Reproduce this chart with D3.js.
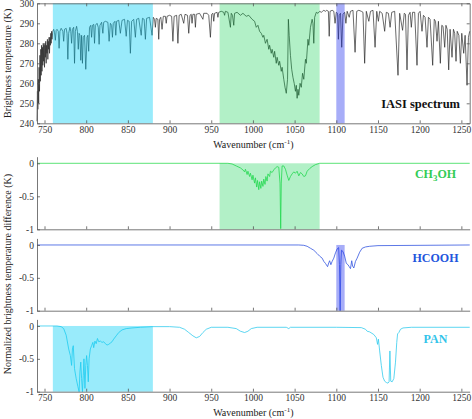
<!DOCTYPE html>
<html>
<head>
<meta charset="utf-8">
<script src="https://cdn.jsdelivr.net/npm/d3@7"></script>
<style>
body { margin: 0; background: #fff; }
svg { display: block; }
.axis path, .axis line { stroke: #555; stroke-width: 0.8; }
</style>
</head>
<body>
<div id="chart"></div>
<script>
// tick values
const xTicks = [750, 800, 850, 900, 950, 1000, 1050, 1100, 1150, 1200, 1250]
const btTicks = [240, 250, 260, 270, 280, 290, 300]
const diffTicks = [-1, -0.5, 0]

// spectral windows used for each species (cm-1)
const bandSpecies = ["PAN", "CH3OH", "HCOOH"]
const bandStart = [760, 960, 1100]
const bandEnd = [880, 1080, 1110]

// IASI brightness temperature spectrum [wavenumber, K]
const iasiSpectrum = [
  [741,241],[741.5,256],[742,247],[742.5,262],[743,250],[743.5,268],[744,256],[744.5,274],[745,261],[745.5,277],
  [746,264],[746.5,279],[747,266],[747.5,278],[748,269],[748.5,280],[749,271],[749.5,279],[750,268],[750.5,280],
  [751,273],[751.5,281],[752,270],[752.5,279],[753,275],[753.5,282],[754,272],[754.5,281],[755,277],[755.5,283],
  [756,275],[756.5,283],[757,279],[757.5,285],[758,280],[758.5,286],[759,282],[760,286],[761,287],
  [762,285.5],[763,281.5],[764,286.5],[765,287],[766.5,286],[767.5,277.5],[768.5,286],[770,287.5],[772,286],[773,281],
  [774,287],[776,287.5],[777,285],[778,272],[779,285],[780.5,288],[781.5,286],[782.5,280],[783.5,287],[785,288],
  [786,270],[787,286],[788.5,288.5],[789.5,286],[790.5,277],[791.5,285],[792.5,284],[793.5,271.5],[794.5,284],[795.5,270],
  [796.5,283],[798,284],[799.5,267],[801,283],[802,284],[803,276],[804,288],[805.5,289],[806.5,283],[807.5,289],
  [809,289.5],[810,280],[811,289],[813,290],[814.5,288],[815.5,279.5],[816.5,289],[818.5,290.5],[820,285],[821,290.5],
  [823,291],[826,290.5],[827.5,281],[829,290],[830.5,289],[831.5,283],[832.5,290],[834.5,291],[835.5,284],[836.5,291],
  [839,291.5],[841,285],[843,291.5],[846,292],[848,283.5],[849.5,291.5],[851.5,291],[853,275],[854.5,291],[857,292],
  [859,283],[860.5,292],[863,292.5],[866,284],[867.5,292.5],[869.5,292],[871,282],[872.5,292.5],[876,293],[879,284],
  [880.5,293],[882,292],[883,288],[884,292.5],[886,292],[887,282],[888,292],[889.5,293],[891,287],[892.5,293.5],
  [895,293.5],[896,290],[897,293.5],[900,294],[902.5,293.5],[904,281],[905.5,293.5],[908.5,294],[910,280],[911.5,294],
  [914,294.5],[917,290],[918.5,294.5],[921.5,294],[923,285],[924.5,294],[926,294.5],[927,290],[928,294.5],[930,294.5],
  [931,288],[932,294.5],[936,295],[940,292],[941,295],[945,295],[947,294],[949,283],[950.5,294.5],[952,295],
  [953,291],[954,295],[957,295.5],[958,293],[959,295.5],[962,296],[965,295.5],[966,294],[967,296],[970,295.5],
  [973,288],[974,295],[975.5,294],[977,289],[978,295],[981,295.5],[985,294],[988,295],[992,293.5],[995,294],
  [999,292],[1002,291],[1004,288],[1006,289],[1008,286],[1010,285],[1012,283],[1013,284],[1015,280],[1017,282],
  [1019,277],[1020,279],[1022,275],[1023,277],[1025,273],[1026,276],[1028,270],[1029,273],[1031,269],[1032,271],
  [1034,266],[1035,268],[1037,262],[1038.5,258],[1040,255],[1041.5,262],[1042.5,292],[1043.5,284],[1045,274],[1046.5,267],
  [1048,263],[1049.5,260],[1051,256],[1052,259],[1053,252.5],[1054,257],[1055,254],[1056.5,260],[1058,258],[1059.5,265],
  [1061,262],[1063,272],[1064,270],[1066,282],[1067,279],[1069,288],[1071,292],[1072,290],[1073,280],[1074,293],
  [1076,295.5],[1078,295],[1080,296],[1082,295.5],[1083.5,296],[1085,296.5],[1087,296],[1088.5,296.5],[1090.5,296],[1091.5,283.5],
  [1092.5,296],[1095,296.5],[1097,296],[1098.5,290],[1100,295.5],[1101.5,295],[1102.5,282],[1103.5,294],[1105,295],[1106.5,278],
  [1108,294.5],[1110,295.5],[1111.5,290],[1113,296],[1115.5,293],[1117,296],[1120,296.5],[1122.5,275.5],[1124.5,296],[1127,296.5],
  [1130,296],[1132,295.5],[1134,270],[1136,296],[1139,291],[1141,296],[1144,296.5],[1146.5,278],[1148.5,296],[1150.5,291],
  [1152,296],[1155,295],[1158,286],[1160,295.5],[1162.5,295],[1164.5,288],[1166.5,295.5],[1170,296],[1174,264],[1176,295],
  [1179.5,286.5],[1181.5,295],[1183,294.5],[1184.8,266.7],[1186.5,294],[1188.5,295.5],[1190,288],[1191.5,295.5],[1194,295.5],[1196.8,269],
  [1198.5,295],[1200.5,296],[1202.8,286],[1204.5,294],[1206.5,293],[1208.8,278],[1210.5,293],[1212.5,292],[1215.6,269],[1217.5,292],
  [1219,291],[1220.8,281],[1222.5,291],[1224.8,270],[1226.5,289],[1228,288.5],[1230,278],[1231.5,289],[1233,287],[1234.8,266.7],
  [1236.5,287],[1238.8,273],[1240.5,287],[1242,285],[1243.6,271],[1245,286],[1247,284],[1248.8,270],[1250.5,285],[1252.8,275],
  [1254.5,284],[1256.8,259],[1258.5,283],[1260,286]
]

// normalized BT difference (K) for each species [wavenumber, value]
const ch3ohDiff = [
  [741,0],[970,0],[975,-0.01],[980,-0.04],[985,-0.07],[988,-0.1],[990,-0.13],[991,-0.09],[993,-0.17],[994,-0.12],
  [996,-0.2],[997,-0.15],[999,-0.25],[1000,-0.18],[1002,-0.3],[1003,-0.22],[1004.5,-0.36],[1005.5,-0.26],[1007,-0.4],[1008,-0.28],
  [1009.5,-0.38],[1010.5,-0.27],[1012,-0.35],[1013,-0.24],[1014.5,-0.32],[1015.5,-0.2],[1017,-0.27],[1018,-0.16],[1020,-0.2],[1021,-0.12],
  [1023,-0.14],[1025,-0.1],[1027,-0.07],[1029,-0.05],[1031,-0.06],[1032.5,-0.3],[1033.3,-0.99],[1034,-0.3],[1035,-0.04],[1037,-0.04],
  [1039,-0.09],[1041,-0.18],[1043,-0.26],[1045,-0.2],[1047,-0.16],[1049,-0.13],[1051,-0.15],[1053,-0.12],[1055,-0.19],[1057,-0.14],
  [1059,-0.16],[1061,-0.2],[1063,-0.19],[1065,-0.12],[1068,-0.08],[1071,-0.05],[1075,-0.02],[1080,0],[1260,0]
]
const hcoohDiff = [
  [741,0],[1055,0],[1061,-0.005],[1065,-0.02],[1069,-0.05],[1073,-0.08],[1077,-0.13],[1080,-0.17],[1083,-0.2],[1085,-0.25],
  [1087,-0.28],[1089.5,-0.33],[1091,-0.27],[1092,-0.24],[1093.5,-0.3],[1095,-0.25],[1097,-0.2],[1099,-0.12],[1101,-0.06],[1102.8,-0.04],
  [1103.8,-0.3],[1104.6,-1.0],[1105.4,-0.3],[1106.2,-0.08],[1108,-0.1],[1110,-0.17],[1112,-0.28],[1114,-0.3],[1115.5,-0.33],[1117,-0.36],
  [1118.5,-0.24],[1119.5,-0.32],[1121,-0.35],[1123,-0.25],[1125,-0.2],[1128,-0.11],[1131,-0.05],[1135,-0.03],[1140,-0.02],[1150,-0.01],
  [1260,0]
]
const panDiff = [
  [741,0],[765,0],[770,-0.01],[773,-0.04],[776,-0.14],[779,-0.35],[781,-0.45],[782.5,-0.6],[783.5,-0.35],[784.5,-0.3],
  [786,-0.65],[788,-0.8],[790,-0.92],[791.5,-1.0],[792.5,-0.7],[793.5,-0.55],[794.5,-0.8],[795.5,-1.0],[796.5,-0.75],[797.3,-0.5],
  [798.5,-0.95],[799.5,-0.6],[800.5,-0.45],[801.5,-0.6],[802.5,-0.85],[803.5,-0.5],[805,-0.35],[806.5,-0.3],[808,-0.25],[809,-0.33],
  [810.5,-0.23],[812,-0.27],[813.5,-0.19],[815,-0.24],[817,-0.23],[819,-0.25],[821,-0.24],[823,-0.27],[825,-0.29],[827,-0.28],
  [829,-0.26],[831,-0.24],[833,-0.2],[836,-0.15],[839,-0.1],[843,-0.06],[848,-0.04],[855,-0.03],[865,-0.02],[880,-0.01],
  [900,-0.01],[912,-0.02],[918,-0.05],[923,-0.1],[928,-0.15],[932,-0.18],[936,-0.16],[940,-0.1],[944,-0.05],[950,-0.02],
  [970,-0.02],[980,-0.04],[985,-0.08],[990,-0.1],[994,-0.08],[998,-0.04],[1005,-0.02],[1040,-0.02],[1043,-0.04],[1045,-0.02],
  [1100,-0.02],[1130,-0.025],[1135,-0.05],[1137,-0.08],[1140,-0.09],[1145,-0.13],[1148,-0.18],[1149.5,-0.28],[1150.5,-0.2],[1152,-0.38],
  [1154,-0.6],[1156,-0.78],[1158,-0.84],[1160,-0.86],[1162,-0.87],[1163.3,-0.85],[1164.3,-0.38],[1165.3,-0.84],[1167,-0.85],[1169,-0.8],
  [1171,-0.55],[1172.5,-0.25],[1173.5,-0.12],[1175,-0.1],[1177,-0.05],[1180,-0.03],[1190,-0.02],[1260,-0.02]
]

// colours per species
const lineColor = {CH3OH: "#33dd55", HCOOH: "#3355e0", PAN: "#33ccee"}
const labelColor = {CH3OH: "#33cc55", HCOOH: "#2255dd", PAN: "#33c4ea"}
const bandFill = {CH3OH: "#00cc44", HCOOH: "#2233ee", PAN: "#00ccf5"}
const bandOpacity = {CH3OH: 0.3, HCOOH: 0.4, PAN: 0.4}

const serif = "'Liberation Serif', 'Times New Roman', serif"
const width = 472
const height = 419

const svg = d3.select("#chart")
  .append("svg")
  .attr("width", width)
  .attr("height", height)
  .attr("font-family", serif)

const x = d3.scaleLinear()
  .domain([741, 1260])
  .range([37, 469.7])

const line = y => d3.line()
  .x(d => x(d[0]))
  .y(d => y(d[1]))

const bands = bandSpecies.map((s, i) => ({species: s, from: bandStart[i], to: bandEnd[i]}))

// d3 axis puts its own sans-serif font on the group, undo that
const axisG = (tr, axis) => {
  const g = svg.append("g").attr("class", "axis").attr("transform", tr).call(axis)
  g.attr("font-family", serif).attr("font-size", 9.5)
  g.selectAll("text").attr("fill", "#333")
  return g
}

// ---------- top panel: IASI spectrum ----------
const yTop = d3.scaleLinear()
  .domain([240, 300])
  .range([123.3, 3.3])

svg.append("path")
  .datum(iasiSpectrum)
  .attr("fill", "none")
  .attr("stroke", "#2a2a2a")
  .attr("stroke-width", 0.7)
  .attr("d", line(yTop))

// shaded windows drawn over the spectrum
svg.selectAll(".topBand")
  .data(bands)
  .enter()
  .append("rect")
  .attr("class", "topBand")
  .attr("x", d => x(d.from))
  .attr("width", d => x(d.to) - x(d.from))
  .attr("y", yTop(300))
  .attr("height", yTop(240) - yTop(300))
  .attr("fill", d => bandFill[d.species])
  .attr("fill-opacity", d => bandOpacity[d.species])

axisG("translate(0," + yTop(240) + ")",
  d3.axisBottom(x).tickValues(xTicks).tickSizeInner(-3).tickSizeOuter(0).tickPadding(3).tickFormat(d3.format("d")))
axisG("translate(0," + yTop(300) + ")",
  d3.axisTop(x).tickValues(xTicks).tickSizeInner(-3).tickSizeOuter(0).tickFormat(""))
axisG("translate(" + x.range()[0] + ",0)",
  d3.axisLeft(yTop).tickValues(btTicks).tickSizeInner(-3).tickSizeOuter(0).tickPadding(3))
axisG("translate(" + x.range()[1] + ",0)",
  d3.axisRight(yTop).tickValues(btTicks).tickSizeInner(-3).tickSizeOuter(0).tickFormat(""))

svg.append("text")
  .attr("x", 460)
  .attr("y", 108)
  .attr("text-anchor", "end")
  .attr("font-size", "12.5px")
  .attr("font-weight", "bold")
  .attr("fill", "#111")
  .text("IASI spectrum")

const xLabel = (yPos) => {
  const t = svg.append("text")
    .attr("x", (x.range()[0] + x.range()[1]) / 2)
    .attr("y", yPos)
    .attr("text-anchor", "middle")
    .attr("font-size", "10px")
    .attr("fill", "#222")
  t.append("tspan").text("Wavenumber (cm")
  t.append("tspan").attr("dy", -4).attr("font-size", "7px").text("-1")
  t.append("tspan").attr("dy", 4).text(")")
}
xLabel(148)

svg.append("text")
  .attr("transform", "translate(11," + yTop(270) + ") rotate(-90)")
  .attr("text-anchor", "middle")
  .attr("font-size", "10px")
  .attr("fill", "#222")
  .text("Brightness temperature (K)")

// ---------- lower panels: normalized BT differences ----------
const panels = [
  {species: "CH3OH", data: ch3ohDiff, bottom: 229.3, top: 156.7, labelY: 178},
  {species: "HCOOH", data: hcoohDiff, bottom: 310.7, top: 238.4, labelY: 262},
  {species: "PAN", data: panDiff, bottom: 391.7, top: 319.4, labelY: 343}
]

panels.forEach((p, i) => {
  const y = d3.scaleLinear().domain([-1, 0.1]).range([p.bottom, p.top])
  const band = bands.find(b => b.species === p.species)

  svg.append("path")
    .datum(p.data)
    .attr("fill", "none")
    .attr("stroke", lineColor[p.species])
    .attr("stroke-width", 0.8)
    .attr("d", line(y))

  svg.append("rect")
    .attr("x", x(band.from))
    .attr("width", x(band.to) - x(band.from))
    .attr("y", y(0))
    .attr("height", y(-1) - y(0))
    .attr("fill", bandFill[p.species])
    .attr("fill-opacity", bandOpacity[p.species])

  const last = i === panels.length - 1
  axisG("translate(0," + p.bottom + ")",
    d3.axisBottom(x).tickValues(xTicks).tickSizeInner(-3).tickSizeOuter(0).tickPadding(3)
      .tickFormat(last ? d3.format("d") : ""))
  axisG("translate(" + x.range()[0] + ",0)",
    d3.axisLeft(y).tickValues(diffTicks).tickSizeInner(-3).tickSizeOuter(0).tickPadding(3)
      .tickFormat(d => String(d)))

  const lab = svg.append("text")
    .attr("x", 435.5)
    .attr("y", p.labelY)
    .attr("text-anchor", "middle")
    .attr("font-size", "12px")
    .attr("font-weight", "bold")
    .attr("fill", labelColor[p.species])
  if (p.species === "CH3OH") {
    lab.append("tspan").text("CH")
    lab.append("tspan").attr("dy", 3).attr("font-size", "9px").text("3")
    lab.append("tspan").attr("dy", -3).text("OH")
  } else {
    lab.text(p.species)
  }
})

xLabel(416)

svg.append("text")
  .attr("transform", "translate(11,274) rotate(-90)")
  .attr("text-anchor", "middle")
  .attr("font-size", "10px")
  .attr("fill", "#222")
  .text("Normalized brightness temperature difference (K)")
</script>
</body>
</html>
